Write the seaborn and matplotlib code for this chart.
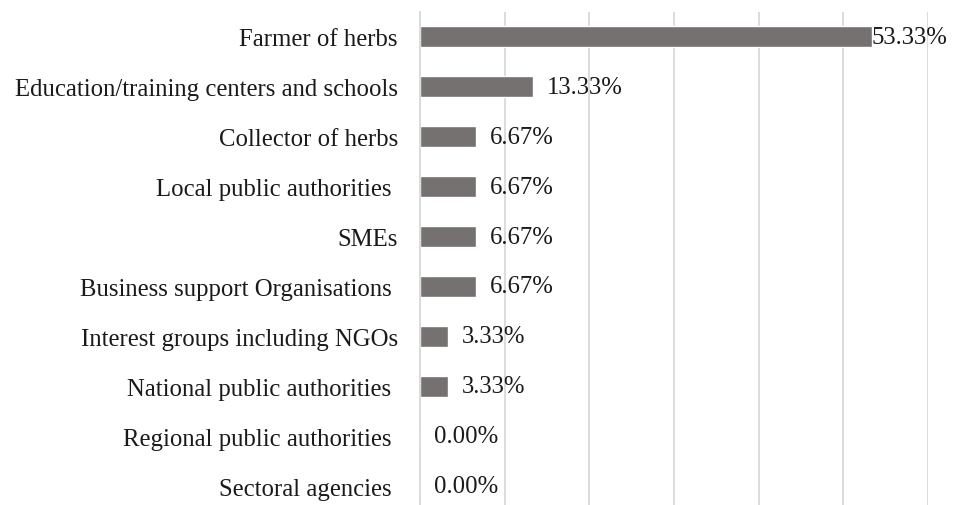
import matplotlib
matplotlib.use("Agg")
import matplotlib.pyplot as plt
import seaborn as sns
import pandas as pd

categories = [
    "Farmer of herbs",
    "Education/training centers and schools",
    "Collector of herbs",
    "Local public authorities ",
    "SMEs",
    "Business support Organisations ",
    "Interest groups including NGOs",
    "National public authorities ",
    "Regional public authorities ",
    "Sectoral agencies ",
]
values = [53.33, 13.33, 6.67, 6.67, 6.67, 6.67, 3.33, 3.33, 0.00, 0.00]
value_labels = ["53.33%", "13.33%", "6.67%", "6.67%", "6.67%", "6.67%",
                "3.33%", "3.33%", "0.00%", "0.00%"]
x_ticks = [0, 10, 20, 30, 40, 50, 60]

df = pd.DataFrame({"category": categories, "value": values})

sns.set_theme(style="white")
plt.rcParams["font.family"] = ["Liberation Serif", "DejaVu Serif"]

fig = plt.figure(figsize=(9.57, 5.06), dpi=100)
W, H = 957, 506
left, right, top, bottom = 420, 928, 13, 512
ax = fig.add_axes([left / W, (H - bottom) / H, (right - left) / W, (bottom - top) / H])

sns.barplot(data=df, x="value", y="category", orient="h", color="#767171",
            width=0.42, ax=ax, saturation=1)

ax.set_xlim(0, 60)
ax.set_xticks(x_ticks)
ax.set_xticklabels([])
ax.xaxis.grid(True, color="#D9D9D9", linewidth=1.3)
ax.set_axisbelow(True)
for s in ["top", "right", "bottom"]:
    ax.spines[s].set_visible(False)
ax.spines["left"].set_color("#D9D9D9")
ax.spines["left"].set_linewidth(1.3)
ax.set_xlabel("")
ax.set_ylabel("")
ax.tick_params(axis="y", length=0, pad=16, labelsize=17.8, labelcolor="#1a1a1a")
ax.tick_params(axis="x", length=0)

vmax = max(values)
for i, (v, lab) in enumerate(zip(values, value_labels)):
    off = 0 if v == vmax else 10
    ax.annotate(lab, xy=(v, i), xytext=(off, 0), textcoords="offset points",
                ha="left", va="center", fontsize=17.8, color="#1a1a1a",
                annotation_clip=False)

fig.savefig("out.png", dpi=100)
